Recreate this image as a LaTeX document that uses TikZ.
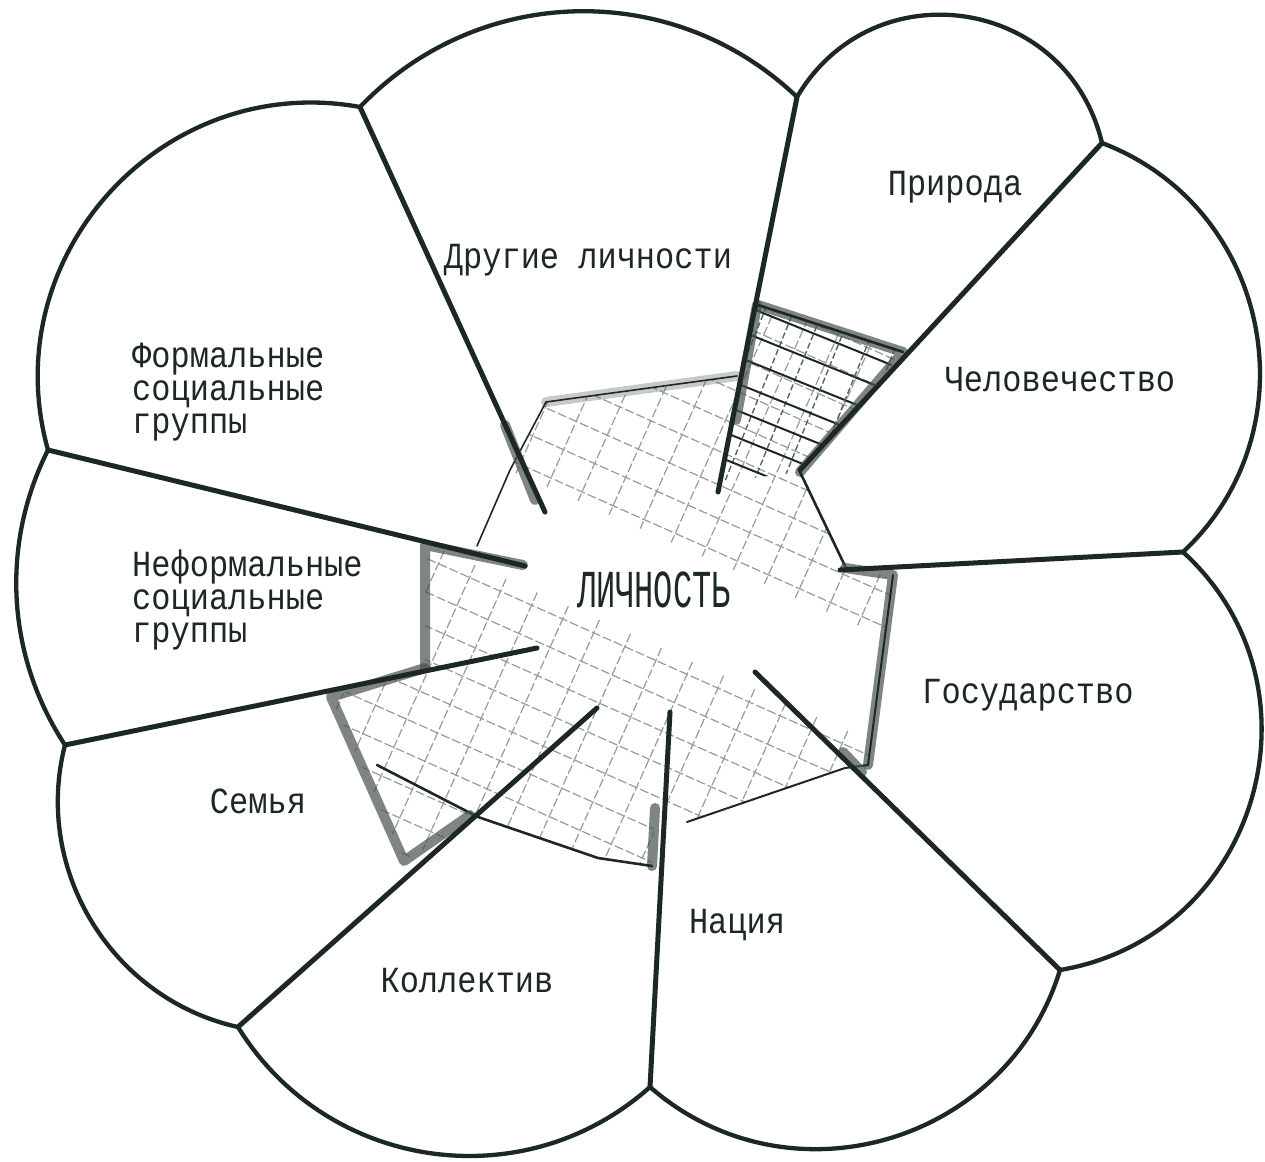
\documentclass[tikz,border=0pt]{standalone}
\usepackage{fontspec}
\setmainfont{Liberation Mono}
\definecolor{ink}{RGB}{28,40,34}
\definecolor{crayon}{RGB}{72,82,77}
\definecolor{hatchc}{RGB}{150,156,152}
\begin{document}
\begin{tikzpicture}[x=1pt,y=-1pt,
  outer/.style={draw=ink,line width=4.3pt,line cap=round,line join=round},
  divider/.style={draw=ink,line width=5pt,line cap=round},
  crayon/.style={draw=crayon,line width=10pt,line cap=round,line join=round,opacity=0.7},
  inkedge/.style={draw=ink,line width=2.6pt,line cap=round,line join=round},
  hatch/.style={draw=hatchc,line width=1.2pt,dash pattern=on 9pt off 3pt},
  darkhatch/.style={draw=ink,line width=2pt},
  lighthatch/.style={draw=hatchc!50!ink,line width=1.4pt,dash pattern=on 6pt off 3pt},
  lbl/.style={font=\fontsize{32}{29}\selectfont,text=ink,inner sep=0pt,yscale=1.15},
]
\path[use as bounding box, fill=white] (0,0) rectangle (1265,1161);

% cusps of the outline
\coordinate (c1) at (360,107);
\coordinate (c2) at (797,97);
\coordinate (c3) at (1102,143);
\coordinate (c4) at (1183,552);
\coordinate (c5) at (1060,970);
\coordinate (c6) at (650,1087);
\coordinate (c7) at (238,1027);
\coordinate (c8) at (65,745);
\coordinate (c9) at (48,450);
% inner ends of the dividers
\coordinate (d1) at (545,512);
\coordinate (d2) at (718,492);
\coordinate (d3) at (800,470);
\coordinate (d4) at (840,570);
\coordinate (d5) at (755,672);
\coordinate (d6) at (670,712);
\coordinate (d7) at (597,708);
\coordinate (d8) at (537,648);
\coordinate (d9) at (525,566);

% hatched centre
\begin{scope}
\clip (546,402) -- (737,376) -- (758,305) -- (903,352) -- (800,472) -- (845,566) -- (893,575) -- (868,765) -- (845,768) -- (687,822) -- (655,808) -- (652,866) -- (598,858) -- (478,817) -- (404,861) -- (331,697) -- (425,668) -- (425,545) -- (477,546) -- (510,470) -- cycle;
\begin{scope}[shift={(650,590)},rotate=-24]
\foreach \k in {-12,...,12} {
  \draw[hatch] (-420,\k*31) -- (420,\k*31);
  \draw[hatch] (\k*34,-420) -- (\k*34,420);
}
\fill[white] (-420,-52) rectangle (420,48);
\end{scope}
\end{scope}
\begin{scope}
\clip (758,305) -- (903,352) -- (800,472) -- (720,482) -- cycle;
\begin{scope}[shift={(820,390)},rotate=-22]
\foreach \k in {-7,...,7} {
  \draw[darkhatch] (-220,\k*25) -- (220,\k*25);
  \draw[lighthatch] (\k*27,-220) -- (\k*27,220);
}
\end{scope}
\end{scope}

% crayon borders of the centre
\draw[crayon] (758,305) -- (903,352) -- (800,472);
\draw[crayon] (757,305) -- (736,420);
\draw[inkedge] (758,305) -- (903,352);
\draw[inkedge] (800,472) -- (845,566);
\draw[crayon] (845,568) -- (893,575) -- (868,765);
\draw[inkedge,line width=2pt] (893,575) -- (868,765);
\draw[inkedge,line width=2pt] (868,765) -- (845,768) -- (687,822);
\draw[crayon] (655,808) -- (652,866);
\draw[inkedge] (652,866) -- (598,858) -- (478,817) -- (377,765);
\draw[crayon] (425,668) -- (331,697) -- (404,861) -- (470,815);
\draw[crayon] (425,668) -- (425,545) -- (523,565);
\draw[crayon,opacity=0.3] (546,402) -- (737,376);
\draw[inkedge,line width=1.6pt] (546,402) -- (737,376);
\draw[inkedge,line width=1.6pt] (546,402) -- (510,470) -- (477,546);
\draw[crayon] (505,425) -- (535,500);
\draw[crayon] (843,752) -- (862,772);

% dividers
\draw[divider] (d1) -- (c1);
\draw[divider] (d2) -- (c2);
\draw[divider] (d3) -- (c3);
\draw[divider] (d4) -- (c4);
\draw[divider] (d5) -- (c5);
\draw[divider] (d6) -- (c6);
\draw[divider] (d7) -- (c7);
\draw[divider] (d8) -- (c8);
\draw[divider] (d9) -- (c9);

% scalloped outline
\draw[outer] (c1) to[bend left=45,looseness=1.0] (c2)
  to[bend left=68,looseness=1.25] (c3)
  to[bend left=58,looseness=1.11] (c4)
  to[bend left=64,looseness=1.18] (c5)
  to[bend left=57,looseness=1.10] (c6)
  to[bend left=50,looseness=1.04] (c7)
  to[bend left=46,looseness=1.0] (c8)
  to[bend left=30,looseness=0.92] (c9)
  to[bend left=58,looseness=1.11] (c1);

% labels
\node[lbl] (n1) at (588,260) {Другие личности};
\node[lbl] (n2) at (955,187) {Природа};
\node[lbl] (n3) at (1060,380) {Человечество};
\node[lbl] (n4) at (1028,695) {Государство};
\node[lbl] (n5) at (737,925) {Нация};
\node[lbl] (n6) at (467,981) {Коллектив};
\node[lbl] (n7) at (258,801) {Семья};
\node[lbl,align=left,anchor=west] (n8) at (132,600) {Неформальные\\социальные\\группы};
\node[lbl,align=left,anchor=west] (n9) at (132,392) {Формальные\\социальные\\группы};
\node[lbl,yscale=1.45] (lich) at (654,590) {ЛИЧНОСТЬ};
\end{tikzpicture}
\end{document}
